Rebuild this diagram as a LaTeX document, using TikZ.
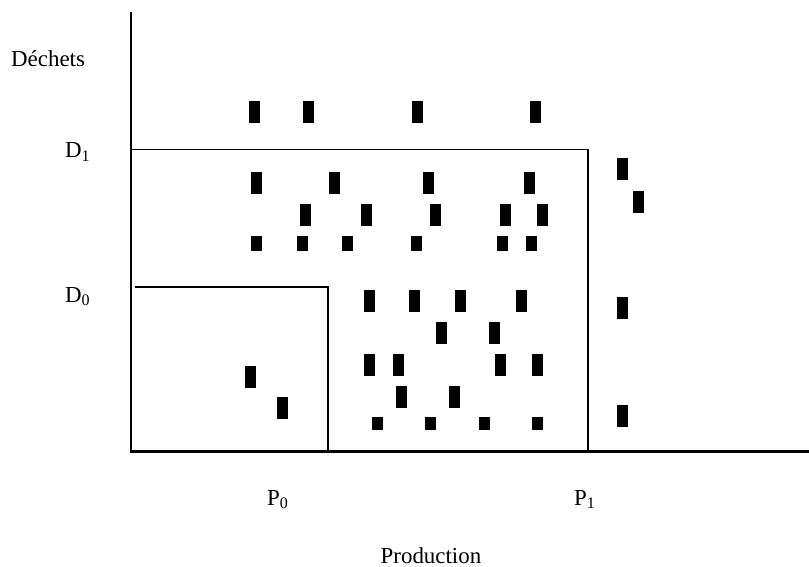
\documentclass[tikz,border=0pt]{standalone}
\usepackage{fontspec}
\setmainfont{Liberation Serif}
\begin{document}
\begin{tikzpicture}[x=1bp,y=-1bp,
  lbl/.style={inner sep=0pt,anchor=base west,font=\fontsize{23}{27}\selectfont},
  tallmark/.style={fill=black,draw=none,minimum width=11bp,minimum height=22bp,inner sep=0pt},
  midmark/.style={fill=black,draw=none,minimum width=11bp,minimum height=15bp,inner sep=0pt},
  lowmark/.style={fill=black,draw=none,minimum width=11bp,minimum height=13bp,inner sep=0pt},
  axis/.style={line width=2.2bp},
  bound/.style={line width=1.8bp}]
\useasboundingbox (0,0) rectangle (809,567);
% coordinates
\coordinate (ytop) at (131,12);
\coordinate (orig) at (131,451.5);
\coordinate (xend) at (809,451.5);
\coordinate (d1l) at (131,149.5);
\coordinate (d1r) at (588,149.5);
\coordinate (p1b) at (588,451.5);
\coordinate (d0l) at (135,287);
\coordinate (d0r) at (328,287);
\coordinate (p0b) at (328,451.5);
% axes
\draw[axis] (ytop) -- (orig) -- (xend);
\draw[bound] (d1l) -- (d1r) -- (p1b);
\draw[bound] (d0l) -- (d0r) -- (p0b);
% labels
\node[lbl] (dech) at (11,66.5) {Déchets};
\node[lbl] (lD1) at (65,158) {D\textsubscript{1}};
\node[lbl] (lD0) at (65,302) {D\textsubscript{0}};
\node[lbl] (lP0) at (267,505) {P\textsubscript{0}};
\node[lbl] (lP1) at (574,505) {P\textsubscript{1}};
\node[lbl] (prod) at (380.5,563.5) {Production};
% marks
\foreach \x [count=\i] in {254,308,417,535} \node[tallmark] (a\i) at (\x,112.5) {};
\foreach \x [count=\i] in {256.5,334,428,529} \node[tallmark] (b\i) at (\x,183) {};
\foreach \x [count=\i] in {305,366,435.5,505,542} \node[tallmark] (c\i) at (\x,215) {};
\foreach \x [count=\i] in {256.5,302,347.7,416.7,502.3,531.7} \node[midmark] (d\i) at (\x,243.3) {};
\foreach \x [count=\i] in {369,414.7,460,521.3} \node[tallmark] (e\i) at (\x,301) {};
\foreach \x [count=\i] in {441,494.7} \node[tallmark] (f\i) at (\x,332.5) {};
\foreach \x [count=\i] in {369,398.7,500,537.7} \node[tallmark] (g\i) at (\x,365) {};
\foreach \x [count=\i] in {401,454.7} \node[tallmark] (h\i) at (\x,396.7) {};
\foreach \x [count=\i] in {377.3,430.7,484,537.7} \node[lowmark] (k\i) at (\x,423.7) {};
\node[tallmark] (in1) at (250,376.7) {};
\node[tallmark] (in2) at (282,408.3) {};
\node[tallmark] (r1) at (622,169.5) {};
\node[tallmark] (r2) at (638,201.7) {};
\node[tallmark] (r3) at (622,308.3) {};
\node[tallmark] (r4) at (622,416.2) {};
\end{tikzpicture}
\end{document}
